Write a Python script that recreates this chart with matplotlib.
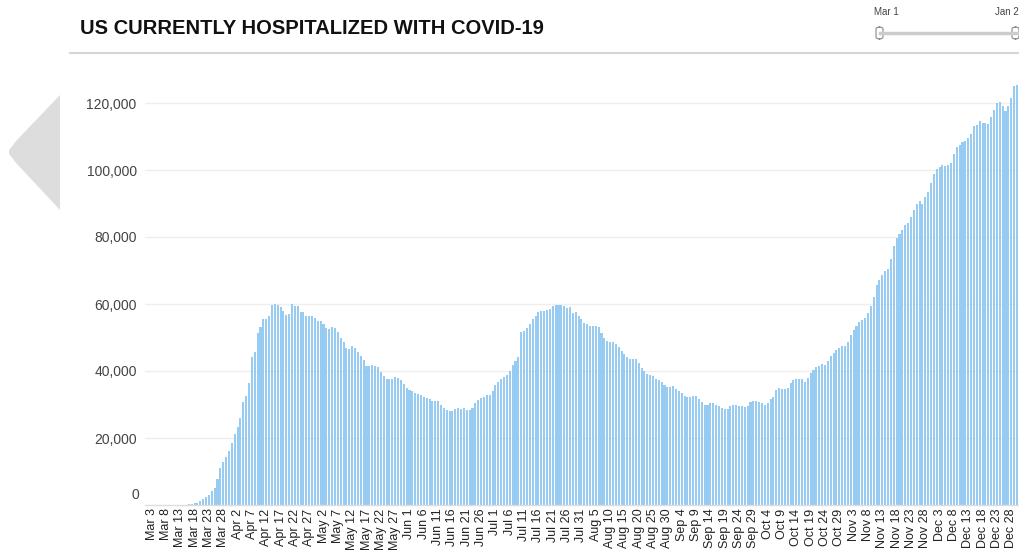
"""
US currently hospitalized with COVID-19 - daily bar chart
"""

import matplotlib
matplotlib.use('Agg')
import matplotlib.pyplot as plt
from matplotlib.patches import Polygon, FancyBboxPatch
from matplotlib.lines import Line2D
import pandas as pd
import numpy as np

plt.rcParams['font.family'] = ['Liberation Sans', 'DejaVu Sans']

# Currently hospitalized, thousands, one value per day starting Mar 3 2020
mar = [0, 0, 0, 0, 0, 0, 0, 0, 0, 0, 0, 0, 0.1, 0.2, 0.3, 0.5, 0.7, 1.1, 1.7,
       2.3, 2.9, 4.2, 5.2, 7.9, 11.1, 12.7, 14.2, 16.2, 18.5]
apr = [21.2, 23.2, 26.1, 30.7, 32.5, 36.5, 44.1, 45.7, 51.2, 53.1, 55.6, 55.6,
       56.3, 59.7, 60.0, 59.7, 59.1, 57.8, 56.6, 57.0, 60.0, 59.4, 59.4, 57.6,
       57.6, 56.3, 56.3, 56.3, 55.9, 55.0]
may = [55.0, 54.0, 52.8, 52.5, 53.0, 52.7, 51.6, 49.9, 48.7, 46.9, 46.6, 47.6,
       47.0, 45.7, 44.4, 43.2, 41.6, 41.6, 41.9, 41.6, 41.3, 39.7, 38.5, 37.6,
       37.6, 37.6, 38.1, 37.9, 37.3, 36.0, 35.0]
jun = [34.3, 34.0, 33.5, 33.1, 32.8, 32.3, 32.0, 31.5, 31.1, 31.1, 31.1, 29.9,
       29.1, 28.3, 28.0, 28.0, 28.7, 28.9, 28.7, 28.9, 28.3, 28.3, 28.9, 30.3,
       31.3, 31.9, 32.1, 32.7, 32.7, 33.9]
jul = [35.7, 36.8, 37.7, 38.1, 38.7, 40.1, 41.9, 43.1, 44.1, 51.6, 51.9, 52.8,
       54.1, 55.6, 56.3, 57.5, 57.8, 57.8, 58.1, 58.5, 59.3, 59.8, 59.8, 59.8,
       59.3, 58.7, 59.0, 57.2, 57.5, 56.5, 55.5]
aug = [54.3, 54.1, 53.4, 53.4, 53.4, 53.1, 51.2, 50.0, 49.1, 48.8, 48.8, 48.2,
       47.2, 46.0, 45.1, 44.3, 43.5, 43.7, 43.5, 42.3, 40.9, 40.0, 39.1, 38.7,
       38.4, 37.5, 37.2, 36.6, 35.9, 35.3, 35.3]
sep = [35.6, 34.6, 34.0, 33.4, 32.4, 32.1, 32.1, 32.4, 32.4, 31.5, 30.6, 30.0,
       30.0, 30.3, 30.3, 30.0, 29.6, 29.1, 28.7, 28.8, 29.6, 30.0, 30.0, 29.7,
       29.7, 29.3, 29.7, 30.6, 30.9, 30.9]
oct_ = [30.6, 30.3, 30.0, 30.3, 31.5, 32.1, 34.3, 35.0, 34.6, 34.6, 35.0, 36.3,
        37.2, 37.6, 37.6, 37.6, 36.6, 37.8, 39.4, 40.3, 41.2, 41.5, 42.2, 41.9,
        43.1, 44.4, 45.3, 46.3, 46.9, 47.5, 47.5]
nov = [48.8, 50.6, 52.1, 53.4, 54.6, 55.1, 55.9, 57.2, 59.4, 62.2, 65.7, 67.2,
       68.8, 69.8, 70.3, 73.4, 77.2, 79.6, 80.9, 82.1, 83.5, 84.1, 86.0, 88.2,
       90.0, 90.6, 90.0, 91.8, 93.4, 96.2]
dec = [98.8, 100.3, 101.0, 101.6, 101.3, 101.6, 102.2, 104.7, 106.9, 107.5,
       108.5, 108.8, 109.5, 110.7, 113.1, 113.4, 114.7, 114.1, 114.1, 113.7,
       115.7, 117.9, 120.1, 120.3, 119.2, 117.6, 119.0, 121.6, 125.1, 125.4,
       125.2]
jan = [124.5, 124.0]

y_ticks = [20000, 40000, 60000, 80000, 100000, 120000]

W, H = 1020, 554


def fx(px):
    return px / W


def fy(py):
    return 1 - py / H


values = np.array(mar + apr + may + jun + jul + aug + sep + oct_ + nov + dec + jan) * 1000
dates = pd.date_range('2020-03-03', periods=len(values), freq='D')
labels = [f"{d.strftime('%b')} {d.day}" for d in dates]
pos = np.arange(len(values))

fig = plt.figure(figsize=(W / 100, H / 100), dpi=100)
fig.patch.set_facecolor('white')

# axes run past the right edge, like the cropped screenshot
ax_left, ax_right = 145, 1027
ax_top, ax_bottom = 69.5, 505
ax = fig.add_axes([fx(ax_left), fy(ax_bottom), (ax_right - ax_left) / W, (ax_bottom - ax_top) / H])

ax.bar(pos, values, width=0.72, color='#98cbf2', linewidth=0, zorder=2)

ax.set_xlim(-2.3, len(values) - 0.5)
ax.set_ylim(0, 130000)

# labels every 5 days; the one for Jan 2 falls outside the visible area
tick_pos = pos[:301:5]
ax.set_xticks(tick_pos)
ax.set_xticklabels([labels[i] for i in tick_pos], rotation=90, fontsize=9, color='#222222')
ax.set_yticks(y_ticks)
ax.set_yticklabels([f'{v:,}' for v in y_ticks], fontsize=10, color='#444444')
ax.tick_params(axis='both', length=0)
ax.tick_params(axis='x', pad=2.5)
ax.tick_params(axis='y', pad=6)
ax.text(-0.0065, 2900, '0', transform=ax.get_yaxis_transform(), ha='right',
        va='center', fontsize=10, color='#444444')

ax.grid(axis='y', color='#eeeeee', linewidth=1, zorder=0)
for side in ['top', 'right', 'left']:
    ax.spines[side].set_visible(False)
ax.spines['bottom'].set_color('#dddddd')
ax.spines['bottom'].set_linewidth(1)

# title and rule
fig.text(fx(80), fy(28), 'US CURRENTLY HOSPITALIZED WITH COVID-19', ha='left', va='center',
         fontsize=14.5, fontweight='bold', color='#111111')
fig.add_artist(Line2D([fx(70), fx(1020)], [fy(52.5), fy(52.5)], color='#d6d6d6', linewidth=1.5))

# date range slider
fig.text(fx(874), fy(12), 'Mar 1', fontsize=7, color='#444444', ha='left', va='center')
fig.text(fx(1019), fy(12), 'Jan 2', fontsize=7, color='#444444', ha='right', va='center')
fig.add_artist(Line2D([fx(880), fx(1018)], [fy(33), fy(33)], color='#cccccc', linewidth=2.5))
for hx in [876, 1012]:
    fig.add_artist(FancyBboxPatch((fx(hx), fy(39)), fx(7), 12 / H,
                                  boxstyle='round,pad=0,rounding_size=0.004',
                                  facecolor='white', edgecolor='#888888', linewidth=0.8,
                                  transform=fig.transFigure))

# left navigation arrow
arrow = [(60, 95), (17, 140), (9, 150), (9, 154), (17, 164), (60, 210)]
fig.add_artist(Polygon([(fx(x), fy(y)) for x, y in arrow], closed=True,
                       facecolor='#dddddd', edgecolor='none', transform=fig.transFigure))

fig.savefig('out.png', dpi=100)
